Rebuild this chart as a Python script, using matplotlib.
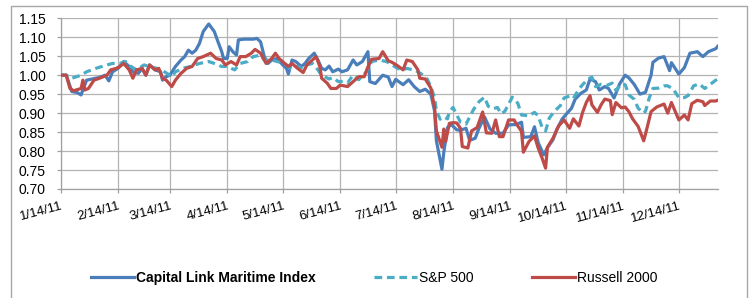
import datetime as dt
import matplotlib
matplotlib.use("Agg")
import matplotlib.pyplot as plt
import matplotlib.dates as mdates
from matplotlib.patches import Rectangle

# values (date, index level)
clmi = [("2011-01-14", 1.000), ("2011-01-17", 1.000), ("2011-01-20", 0.957), ("2011-01-23", 0.954),
        ("2011-01-25", 0.948), ("2011-01-26", 0.961), ("2011-01-28", 0.987), ("2011-01-31", 0.990),
        ("2011-02-04", 0.994), ("2011-02-07", 1.000), ("2011-02-09", 0.985), ("2011-02-11", 1.009),
        ("2011-02-14", 1.018), ("2011-02-17", 1.036), ("2011-02-20", 1.023), ("2011-02-22", 1.009),
        ("2011-02-25", 1.005), ("2011-02-27", 1.018), ("2011-03-01", 1.000), ("2011-03-03", 1.027),
        ("2011-03-06", 1.014), ("2011-03-09", 1.009), ("2011-03-10", 0.987), ("2011-03-12", 0.996),
        ("2011-03-14", 1.000), ("2011-03-17", 1.023), ("2011-03-20", 1.040), ("2011-03-22", 1.049),
        ("2011-03-24", 1.066), ("2011-03-26", 1.058), ("2011-03-28", 1.066), ("2011-03-30", 1.084),
        ("2011-04-01", 1.115), ("2011-04-04", 1.135), ("2011-04-07", 1.115), ("2011-04-09", 1.088),
        ("2011-04-11", 1.062), ("2011-04-12", 1.044), ("2011-04-14", 1.044), ("2011-04-15", 1.075),
        ("2011-04-17", 1.062), ("2011-04-19", 1.053), ("2011-04-20", 1.093), ("2011-04-23", 1.095),
        ("2011-04-28", 1.095), ("2011-04-30", 1.097), ("2011-05-02", 1.088), ("2011-05-04", 1.049),
        ("2011-05-06", 1.031), ("2011-05-08", 1.040), ("2011-05-11", 1.044), ("2011-05-14", 1.027),
        ("2011-05-16", 1.018), ("2011-05-17", 1.003), ("2011-05-19", 1.040), ("2011-05-21", 1.036),
        ("2011-05-24", 1.023), ("2011-05-26", 1.031), ("2011-05-28", 1.044), ("2011-05-31", 1.058),
        ("2011-06-02", 1.040), ("2011-06-04", 1.018), ("2011-06-06", 1.014), ("2011-06-08", 1.024),
        ("2011-06-10", 1.009), ("2011-06-13", 1.016), ("2011-06-15", 1.009), ("2011-06-18", 1.014),
        ("2011-06-21", 1.040), ("2011-06-23", 1.027), ("2011-06-26", 1.036), ("2011-06-29", 1.062),
        ("2011-06-30", 0.983), ("2011-07-03", 0.978), ("2011-07-07", 1.000), ("2011-07-10", 0.995),
        ("2011-07-12", 0.970), ("2011-07-14", 0.989), ("2011-07-18", 0.975), ("2011-07-21", 0.988),
        ("2011-07-24", 0.970), ("2011-07-27", 0.957), ("2011-07-30", 0.963), ("2011-08-02", 0.950),
        ("2011-08-04", 0.906), ("2011-08-05", 0.827), ("2011-08-08", 0.752), ("2011-08-09", 0.797),
        ("2011-08-11", 0.862), ("2011-08-13", 0.870), ("2011-08-16", 0.856), ("2011-08-18", 0.855),
        ("2011-08-21", 0.860), ("2011-08-23", 0.828), ("2011-08-26", 0.834), ("2011-08-28", 0.860),
        ("2011-08-31", 0.890), ("2011-09-03", 0.858), ("2011-09-06", 0.847), ("2011-09-10", 0.847),
        ("2011-09-13", 0.869), ("2011-09-17", 0.870), ("2011-09-20", 0.876), ("2011-09-21", 0.836),
        ("2011-09-25", 0.838), ("2011-09-27", 0.864), ("2011-09-29", 0.822), ("2011-10-02", 0.790),
        ("2011-10-04", 0.809), ("2011-10-07", 0.830), ("2011-10-09", 0.856), ("2011-10-12", 0.885),
        ("2011-10-15", 0.902), ("2011-10-17", 0.913), ("2011-10-19", 0.937), ("2011-10-22", 0.952),
        ("2011-10-25", 0.961), ("2011-10-27", 0.990), ("2011-10-30", 0.983), ("2011-11-01", 0.961),
        ("2011-11-04", 0.970), ("2011-11-06", 0.965), ("2011-11-09", 0.940), ("2011-11-12", 0.977),
        ("2011-11-15", 1.000), ("2011-11-17", 0.993), ("2011-11-20", 0.975), ("2011-11-23", 0.950),
        ("2011-11-26", 0.955), ("2011-11-29", 1.000), ("2011-11-30", 1.034), ("2011-12-03", 1.045),
        ("2011-12-06", 1.049), ("2011-12-09", 1.012), ("2011-12-10", 1.033), ("2011-12-14", 1.003),
        ("2011-12-17", 1.020), ("2011-12-20", 1.058), ("2011-12-24", 1.062), ("2011-12-27", 1.049),
        ("2011-12-30", 1.062), ("2012-01-03", 1.070), ("2012-01-04", 1.076)]

sp500 = [("2011-01-14", 1.000), ("2011-01-17", 1.000), ("2011-01-20", 0.992), ("2011-01-25", 1.000),
         ("2011-01-28", 1.009), ("2011-02-02", 1.018), ("2011-02-08", 1.027), ("2011-02-11", 1.031),
         ("2011-02-15", 1.031), ("2011-02-18", 1.036), ("2011-02-21", 1.023), ("2011-02-24", 1.014),
         ("2011-02-28", 1.027), ("2011-03-03", 1.023), ("2011-03-07", 1.018), ("2011-03-11", 1.009),
         ("2011-03-13", 1.003), ("2011-03-15", 0.996), ("2011-03-17", 1.009), ("2011-03-21", 1.018),
         ("2011-03-25", 1.023), ("2011-03-30", 1.031), ("2011-04-04", 1.036), ("2011-04-07", 1.031),
         ("2011-04-11", 1.023), ("2011-04-14", 1.023), ("2011-04-18", 1.014), ("2011-04-21", 1.031),
         ("2011-04-25", 1.036), ("2011-04-28", 1.049), ("2011-05-02", 1.053), ("2011-05-04", 1.040),
         ("2011-05-08", 1.040), ("2011-05-11", 1.036), ("2011-05-15", 1.031), ("2011-05-18", 1.018),
         ("2011-05-22", 1.023), ("2011-05-25", 1.018), ("2011-05-27", 1.027), ("2011-05-30", 1.031),
         ("2011-06-02", 1.014), ("2011-06-04", 1.000), ("2011-06-08", 0.990), ("2011-06-10", 0.994),
         ("2011-06-13", 0.983), ("2011-06-16", 0.984), ("2011-06-18", 0.980), ("2011-06-21", 1.000),
         ("2011-06-24", 0.988), ("2011-06-28", 1.008), ("2011-07-01", 1.036), ("2011-07-05", 1.040),
         ("2011-07-09", 1.036), ("2011-07-12", 1.027), ("2011-07-15", 1.018), ("2011-07-18", 1.014),
         ("2011-07-20", 1.018), ("2011-07-25", 1.012), ("2011-07-28", 1.003), ("2011-07-31", 0.990),
         ("2011-08-02", 0.970), ("2011-08-04", 0.940), ("2011-08-05", 0.906), ("2011-08-07", 0.884),
         ("2011-08-09", 0.890), ("2011-08-11", 0.885), ("2011-08-12", 0.904), ("2011-08-14", 0.915),
         ("2011-08-18", 0.876), ("2011-08-21", 0.871), ("2011-08-23", 0.890), ("2011-08-25", 0.909),
         ("2011-08-28", 0.930), ("2011-08-31", 0.942), ("2011-09-02", 0.918), ("2011-09-05", 0.912),
         ("2011-09-07", 0.915), ("2011-09-09", 0.898), ("2011-09-11", 0.905), ("2011-09-15", 0.942),
         ("2011-09-18", 0.926), ("2011-09-20", 0.895), ("2011-09-24", 0.893), ("2011-09-27", 0.902),
         ("2011-09-29", 0.893), ("2011-10-01", 0.864), ("2011-10-03", 0.853), ("2011-10-05", 0.887),
         ("2011-10-08", 0.906), ("2011-10-11", 0.920), ("2011-10-13", 0.940), ("2011-10-16", 0.945),
         ("2011-10-18", 0.939), ("2011-10-21", 0.963), ("2011-10-23", 0.975), ("2011-10-26", 0.990),
         ("2011-10-28", 0.995), ("2011-10-30", 0.970), ("2011-11-02", 0.976), ("2011-11-05", 0.973),
         ("2011-11-08", 0.979), ("2011-11-10", 0.960), ("2011-11-13", 0.977), ("2011-11-15", 0.975),
         ("2011-11-17", 0.948), ("2011-11-20", 0.936), ("2011-11-22", 0.913), ("2011-11-25", 0.900),
         ("2011-11-26", 0.905), ("2011-11-28", 0.940), ("2011-11-30", 0.965), ("2011-12-03", 0.966),
         ("2011-12-06", 0.972), ("2011-12-08", 0.972), ("2011-12-11", 0.963), ("2011-12-14", 0.941),
         ("2011-12-17", 0.941), ("2011-12-19", 0.946), ("2011-12-22", 0.972), ("2011-12-25", 0.977),
         ("2011-12-28", 0.965), ("2011-12-31", 0.976), ("2012-01-03", 0.987), ("2012-01-04", 0.990)]

russell = [("2011-01-14", 1.000), ("2011-01-17", 1.000), ("2011-01-19", 0.965), ("2011-01-21", 0.959),
           ("2011-01-25", 0.965), ("2011-01-26", 0.987), ("2011-01-27", 0.961), ("2011-01-29", 0.965),
           ("2011-02-01", 0.987), ("2011-02-04", 0.992), ("2011-02-08", 1.000), ("2011-02-10", 1.014),
           ("2011-02-13", 1.018), ("2011-02-15", 1.023), ("2011-02-17", 1.031), ("2011-02-20", 1.014),
           ("2011-02-22", 0.992), ("2011-02-24", 1.014), ("2011-02-27", 1.018), ("2011-03-01", 1.000),
           ("2011-03-03", 1.027), ("2011-03-06", 1.014), ("2011-03-08", 1.018), ("2011-03-10", 0.992),
           ("2011-03-12", 0.987), ("2011-03-15", 0.970), ("2011-03-17", 0.987), ("2011-03-20", 1.005),
           ("2011-03-21", 1.009), ("2011-03-23", 1.018), ("2011-03-26", 1.023), ("2011-03-29", 1.044),
           ("2011-04-01", 1.049), ("2011-04-05", 1.058), ("2011-04-08", 1.044), ("2011-04-11", 1.040),
           ("2011-04-13", 1.027), ("2011-04-16", 1.036), ("2011-04-19", 1.027), ("2011-04-21", 1.049),
           ("2011-04-24", 1.049), ("2011-04-27", 1.058), ("2011-04-29", 1.068), ("2011-05-02", 1.058),
           ("2011-05-05", 1.031), ("2011-05-08", 1.044), ("2011-05-10", 1.058), ("2011-05-12", 1.044),
           ("2011-05-15", 1.031), ("2011-05-17", 1.023), ("2011-05-19", 1.031), ("2011-05-22", 1.018),
           ("2011-05-25", 1.007), ("2011-05-27", 1.027), ("2011-05-30", 1.040), ("2011-06-01", 1.049),
           ("2011-06-03", 1.023), ("2011-06-04", 0.992), ("2011-06-07", 0.979), ("2011-06-09", 0.965),
           ("2011-06-12", 0.965), ("2011-06-14", 0.974), ("2011-06-18", 0.970), ("2011-06-21", 0.983),
           ("2011-06-24", 0.996), ("2011-06-27", 0.996), ("2011-06-29", 1.022), ("2011-07-01", 1.042),
           ("2011-07-05", 1.044), ("2011-07-07", 1.062), ("2011-07-10", 1.038), ("2011-07-12", 1.034),
           ("2011-07-15", 1.025), ("2011-07-18", 1.014), ("2011-07-20", 1.040), ("2011-07-23", 1.036),
           ("2011-07-26", 1.014), ("2011-07-27", 0.992), ("2011-07-30", 0.990), ("2011-08-02", 0.966),
           ("2011-08-04", 0.915), ("2011-08-05", 0.853), ("2011-08-08", 0.810), ("2011-08-09", 0.858),
           ("2011-08-10", 0.825), ("2011-08-12", 0.873), ("2011-08-14", 0.875), ("2011-08-16", 0.874),
           ("2011-08-18", 0.860), ("2011-08-19", 0.812), ("2011-08-22", 0.808), ("2011-08-24", 0.853),
           ("2011-08-27", 0.862), ("2011-08-30", 0.903), ("2011-09-01", 0.848), ("2011-09-04", 0.847),
           ("2011-09-06", 0.882), ("2011-09-08", 0.838), ("2011-09-10", 0.838), ("2011-09-13", 0.882),
           ("2011-09-16", 0.882), ("2011-09-17", 0.873), ("2011-09-20", 0.852), ("2011-09-21", 0.797),
           ("2011-09-24", 0.825), ("2011-09-27", 0.840), ("2011-09-29", 0.808), ("2011-10-01", 0.783),
           ("2011-10-03", 0.755), ("2011-10-04", 0.810), ("2011-10-07", 0.834), ("2011-10-10", 0.866),
           ("2011-10-13", 0.882), ("2011-10-16", 0.860), ("2011-10-18", 0.885), ("2011-10-21", 0.866),
           ("2011-10-23", 0.902), ("2011-10-25", 0.928), ("2011-10-27", 0.946), ("2011-10-28", 0.922),
           ("2011-10-31", 0.902), ("2011-11-02", 0.922), ("2011-11-04", 0.937), ("2011-11-07", 0.933),
           ("2011-11-08", 0.896), ("2011-11-10", 0.928), ("2011-11-13", 0.914), ("2011-11-15", 0.916),
           ("2011-11-17", 0.904), ("2011-11-19", 0.885), ("2011-11-22", 0.865), ("2011-11-25", 0.827),
           ("2011-11-26", 0.845), ("2011-11-29", 0.904), ("2011-12-02", 0.916), ("2011-12-06", 0.924),
           ("2011-12-08", 0.900), ("2011-12-10", 0.928), ("2011-12-14", 0.882), ("2011-12-17", 0.895),
           ("2011-12-19", 0.882), ("2011-12-21", 0.925), ("2011-12-24", 0.934), ("2011-12-27", 0.930),
           ("2011-12-28", 0.920), ("2011-12-31", 0.932), ("2012-01-03", 0.932), ("2012-01-04", 0.934)]

series_names = ["Capital Link Maritime Index", "S&P 500", "Russell 2000"]
tick_dates = ["2011-%02d-14" % m for m in range(1, 13)]
yticks = [0.70, 0.75, 0.80, 0.85, 0.90, 0.95, 1.00, 1.05, 1.10, 1.15]


def unpack(pairs):
    d = [dt.datetime.strptime(p[0], "%Y-%m-%d") for p in pairs]
    v = [p[1] for p in pairs]
    return d, v


plt.rcParams['font.family'] = ['Liberation Sans', 'DejaVu Sans']

fig = plt.figure(figsize=(7.55, 2.98), dpi=100)
ax = fig.add_axes([0.0804, 0.3658, 0.8702, 0.5728])

# outer chart border
fig.patches.append(Rectangle((11 / 755, -0.01), 736 / 755, 1.01 - 5.7 / 298,
                             transform=fig.transFigure, fill=False,
                             edgecolor='#a6a6a6', linewidth=1.0))

d, v = unpack(clmi)
ax.plot(d, v, color='#4a7ebb', lw=2.3, label=series_names[0], zorder=3)
d, v = unpack(sp500)
ax.plot(d, v, color='#4bacc6', lw=2.3, dashes=(2.4, 1.5), label=series_names[1], zorder=4)
d, v = unpack(russell)
ax.plot(d, v, color='#be4b48', lw=2.3, label=series_names[2], zorder=5)

ax.set_ylim(0.70, 1.15)
ax.set_yticks(yticks)
ax.set_yticklabels(["%.2f" % y for y in yticks], fontsize=10)
ax.set_xlim(dt.datetime(2011, 1, 14), dt.datetime(2012, 1, 4))
tds = [dt.datetime.strptime(t, "%Y-%m-%d") for t in tick_dates]
ax.set_xticks(mdates.date2num(tds))
ax.set_xticklabels(["%d/%d/%s" % (t.month, t.day, t.strftime("%y")) for t in tds],
                   fontsize=9.5, rotation=15, ha='right', rotation_mode='anchor')

ax.grid(True, color='#b3b3b3', lw=0.9)
ax.set_axisbelow(True)
for s in ['top', 'right']:
    ax.spines[s].set_visible(False)
for s in ['left', 'bottom']:
    ax.spines[s].set_color('#a0a0a0')
    ax.spines[s].set_linewidth(0.9)
ax.tick_params(axis='both', colors='#a0a0a0', length=3, width=0.9, labelcolor='black')
ax.tick_params(axis='y', pad=8)
ax.tick_params(axis='x', pad=5)

leg = fig.legend(loc='center', bbox_to_anchor=(0.496, 0.067), ncol=3, frameon=False,
                 fontsize=10, handlelength=3.1, handletextpad=0.15, columnspacing=4.2)
leg.get_texts()[0].set_fontweight('bold')

fig.savefig("out.png", dpi=100)
